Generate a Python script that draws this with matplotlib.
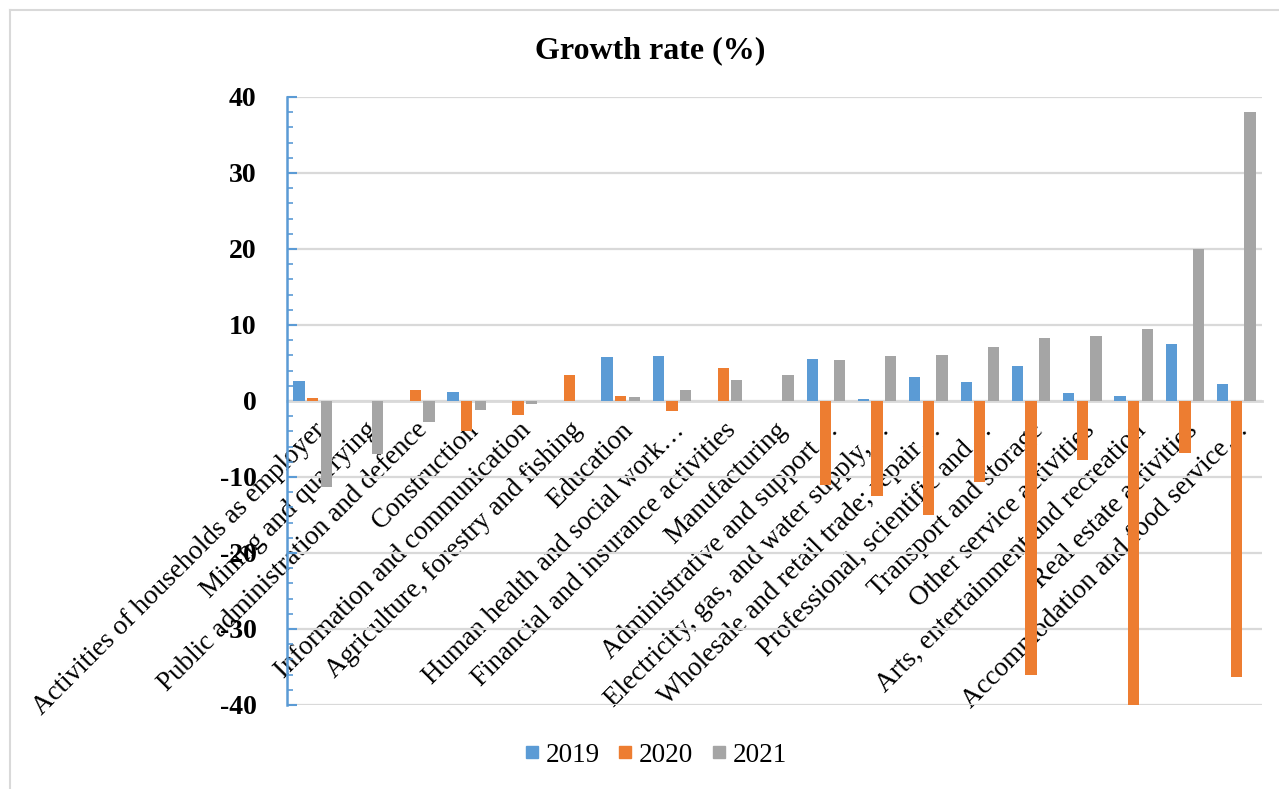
import matplotlib
matplotlib.use("Agg")
import matplotlib.pyplot as plt
import numpy as np
from matplotlib.ticker import MultipleLocator
from matplotlib.lines import Line2D

categories = [
    "Activities of households as employer",
    "Mining and quarrying",
    "Public administration and defence",
    "Construction",
    "Information and communication",
    "Agriculture, forestry and fishing",
    "Education",
    "Human health and social work\u2026",
    "Financial and insurance activities",
    "Manufacturing",
    "Administrative and support\u2026",
    "Electricity, gas, and water supply,\u2026",
    "Wholesale and retail trade; repair\u2026",
    "Professional, scientific and\u2026",
    "Transport and storage",
    "Other service activities",
    "Arts, entertainment and recreation",
    "Real estate activities",
    "Accommodation and food service\u2026",
]
v2019 = [2.6, 0, 0, 1.2, 0, 0, 5.8, 5.9, 0, 0, 5.5, 0.2, 3.2, 2.5, 4.6, 1.0, 0.7, 7.5, 2.3]
v2020 = [0.4, 0, 1.5, -4.0, -1.9, 3.4, 0.7, -1.3, 4.4, 0, -11.0, -12.5, -15.0, -10.6, -36.0, -7.8, -40.0, -6.8, -36.3]
v2021 = [-11.3, -7.0, -2.7, -1.2, -0.4, 0, 0.5, 1.5, 2.8, 3.4, 5.4, 5.9, 6.0, 7.1, 8.3, 8.6, 9.5, 20.0, 38.0]
series_names = ["2019", "2020", "2021"]
colors = ["#5B9BD5", "#ED7D31", "#A5A5A5"]
yticks = [-40, -30, -20, -10, 0, 10, 20, 30, 40]

W, H = 1279, 789
fig = plt.figure(figsize=(W / 100, H / 100), dpi=100)
ax = fig.add_axes([287 / W, 1 - 705 / H, (1262 - 287) / W, (705 - 97) / H])

serif = ["Liberation Serif", "DejaVu Serif"]
x = np.arange(len(categories))
bw = 0.22
off = 0.265
for i, (vals, c, name) in enumerate(zip([v2019, v2020, v2021], colors, series_names)):
    ax.bar(x + (i - 1) * off, vals, width=bw, color=c, label=name, zorder=2)

ax.set_xlim(-0.5, len(categories) - 0.5)
ax.set_ylim(-40, 40)
ax.set_yticks(yticks)
ax.yaxis.set_minor_locator(MultipleLocator(2))
ax.grid(axis="y", color="#D9D9D9", linewidth=1.6)
ax.set_axisbelow(True)

for s in ["top", "right"]:
    ax.spines[s].set_visible(False)
ax.spines["left"].set_color("#5B9BD5")
ax.spines["left"].set_linewidth(1.8)
ax.spines["bottom"].set_position(("data", 0))
ax.spines["bottom"].set_color("#D9D9D9")
ax.spines["bottom"].set_linewidth(2)
ax.spines["bottom"].set_zorder(1.5)

ax.tick_params(axis="y", which="major", direction="in", length=7, width=1.5,
               color="#5B9BD5", pad=22)
ax.tick_params(axis="y", which="minor", direction="in", length=4, width=1.2,
               color="#5B9BD5")
ax.set_yticklabels([str(t) for t in yticks], fontfamily=serif, fontweight="bold",
                   fontsize=20)

ax.set_xticks(x)
ax.tick_params(axis="x", length=0, pad=12)
ax.set_xticklabels(categories, rotation=45, ha="right", va="top",
                   rotation_mode="anchor", fontfamily=serif, fontsize=19.5)

fig.text(0.508, 1 - 51 / H, "Growth rate (%)", ha="center", va="center",
         fontfamily=serif, fontweight="bold", fontsize=23)

handles = [Line2D([], [], marker="s", linestyle="none", markersize=9,
                  markerfacecolor=c, markeredgecolor=c) for c in colors]
fig.legend(handles, series_names, loc="center", bbox_to_anchor=(654 / W, 1 - 755 / H),
           ncol=3, frameon=False, prop={"family": serif, "size": 19.5},
           handletextpad=0.1, columnspacing=0.55, handlelength=0.8)

# chart frame
fig.add_artist(Line2D([10 / W, 10 / W], [0, 1 - 10 / H], transform=fig.transFigure,
                      color="#D9D9D9", linewidth=1.5))
fig.add_artist(Line2D([10 / W, 1], [1 - 10 / H, 1 - 10 / H], transform=fig.transFigure,
                      color="#D9D9D9", linewidth=1.5))

fig.savefig("out.png", dpi=100)
